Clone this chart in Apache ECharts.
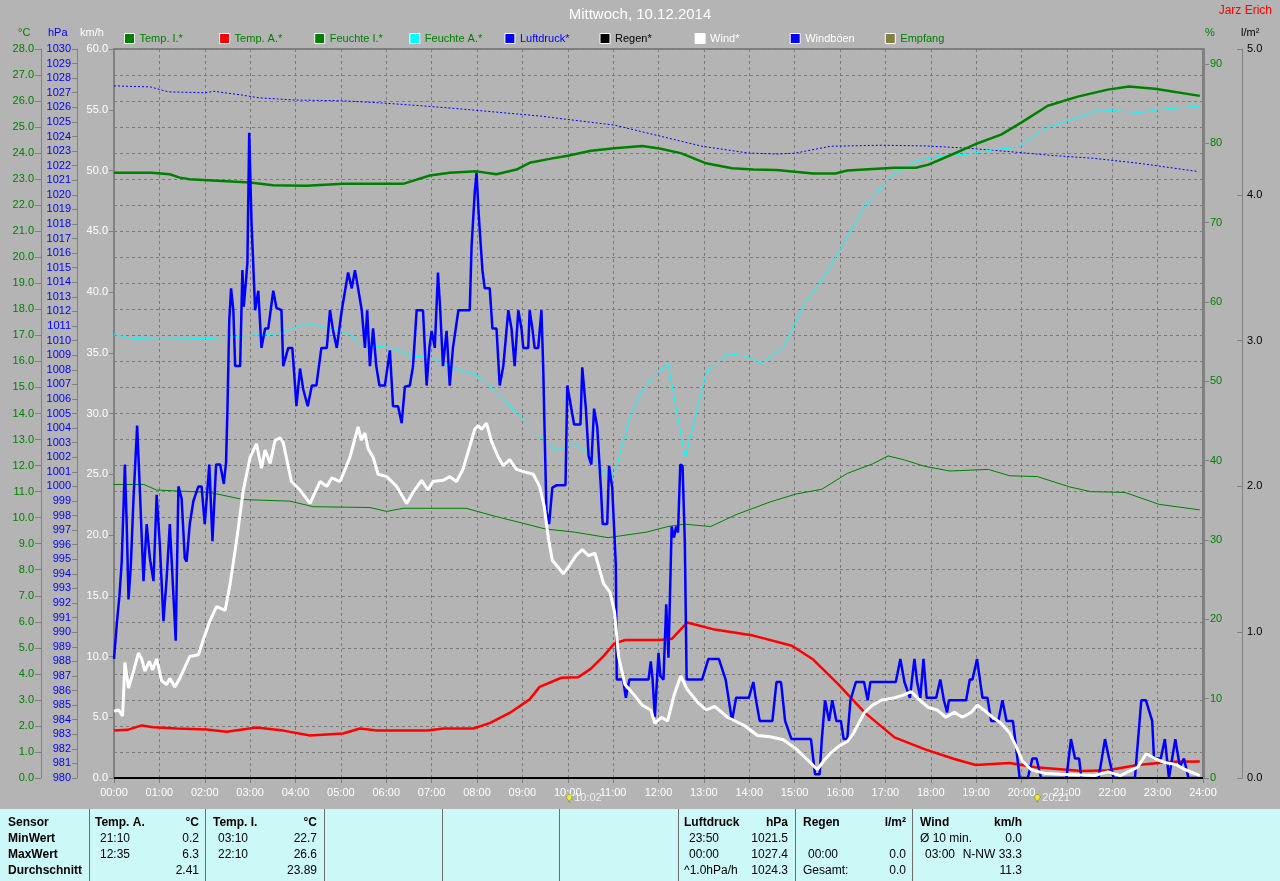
<!DOCTYPE html>
<html>
<head>
<meta charset="utf-8">
<script src="https://cdn.jsdelivr.net/npm/echarts@6/dist/echarts.min.js"></script>
<style>
html,body{margin:0;padding:0;background:#b4b4b4;}
#chart{width:1280px;height:881px;}
</style>
</head>
<body>
<div id="chart"></div>
<script>
// ---------- DATA ----------
const titleText = 'Mittwoch, 10.12.2014';
const authorText = 'Jarz Erich';
const legendNames = ['Temp. I.*','Temp. A.*','Feuchte I.*','Feuchte A.*','Luftdruck*','Regen*','Wind*','Windböen','Empfang'];
const legendTextColors = ['#008000','#008000','#008000','#008000','#0000ff','#000000','#ffffff','#ffffff','#008000'];

const tempInnen = [[0,23.25],[0.83,23.25],[1.23,23.19],[1.45,23.06],[1.67,23.0],[2.48,22.92],[3.0,22.87],[3.5,22.77],[4.24,22.75],[5.05,22.82],[6.37,22.82],[6.96,23.14],[7.4,23.25],[7.99,23.3],[8.43,23.19],[8.87,23.37],[9.16,23.63],[9.6,23.78],[10.0,23.9],[10.51,24.09],[11.03,24.19],[11.64,24.27],[12.02,24.18],[12.49,24.0],[13.05,23.61],[13.62,23.42],[14.09,23.37],[14.6,23.35],[15.41,23.22],[15.9,23.22],[16.16,23.33],[17.2,23.44],[17.67,23.44],[17.95,23.56],[18.42,23.91],[18.99,24.35],[19.55,24.71],[20.02,25.2],[20.58,25.82],[21.24,26.17],[21.9,26.44],[22.37,26.56],[22.94,26.47],[23.93,26.2]];

const tempAussen = [[0,1.82],[0.3,1.85],[0.61,2.02],[0.87,1.95],[1.38,1.9],[2.04,1.86],[2.48,1.78],[3.14,1.94],[3.73,1.82],[4.32,1.63],[5.05,1.71],[5.42,1.9],[5.79,1.82],[6.9,1.82],[7.27,1.9],[7.92,1.9],[8.28,2.11],[8.72,2.5],[9.16,3.02],[9.38,3.5],[9.86,3.85],[10.23,3.87],[10.51,4.2],[10.8,4.7],[11.03,5.17],[11.27,5.3],[12.02,5.3],[12.3,5.35],[12.63,5.97],[13.24,5.7],[14.09,5.47],[14.94,5.08],[15.41,4.55],[15.97,3.59],[16.54,2.52],[17.2,1.56],[17.86,1.11],[18.52,0.73],[18.99,0.5],[19.74,0.58],[20.3,0.41],[21.34,0.27],[21.9,0.3],[22.56,0.5],[23.31,0.62],[23.93,0.63]];

const feuchteInnen = [[0,37.0],[0.66,37.0],[0.94,36.3],[2.11,36.0],[2.85,35.1],[3.88,34.9],[4.39,34.2],[5.64,34.1],[6.01,33.6],[6.37,34.0],[7.76,34.0],[8.36,33.05],[9.09,32.0],[9.5,31.4],[10.14,31.0],[10.89,30.3],[11.74,31.0],[12.21,31.7],[12.57,32.0],[13.15,31.7],[13.71,33.2],[14.46,34.8],[15.03,35.8],[15.6,36.4],[16.16,38.4],[16.72,39.6],[17.06,40.6],[17.42,40.1],[17.86,39.3],[18.42,38.7],[19.27,38.9],[19.74,38.1],[20.35,38.0],[21.06,36.7],[21.52,36.1],[22.28,36.0],[23.03,34.5],[23.93,33.8]];

const feuchteAussen = [[0,55.9],[0.44,55.4],[1.0,55.5],[2.1,55.4],[3.0,55.8],[3.59,56.0],[4.24,57.3],[4.76,56.7],[5.2,55.9],[5.49,54.5],[6.08,54.3],[6.59,53.2],[7.0,53.0],[7.53,51.6],[7.99,50.8],[8.43,48.7],[8.87,46.05],[9.31,43.4],[9.76,41.3],[10.14,42.2],[10.52,40.7],[10.94,37.5],[11.08,39.3],[11.36,45.3],[11.64,48.8],[11.92,50.8],[12.21,52.2],[12.59,40.4],[13.05,51.1],[13.52,53.5],[13.9,53.2],[14.28,52.3],[14.75,54.3],[15.22,59.8],[15.6,62.7],[16.07,67.3],[16.54,72.0],[17.1,75.7],[17.67,77.8],[18.33,78.5],[18.76,78.6],[19.37,79.2],[19.93,79.5],[20.49,81.8],[21.15,83.1],[21.71,84.25],[22.6,83.9],[23.1,84.3],[23.93,84.7]];

const luftdruck = [[0,1027.47],[0.8,1027.4],[1.2,1027.06],[2.0,1027.0],[2.2,1027.1],[2.8,1026.85],[3.2,1026.65],[4.0,1026.5],[5.0,1026.45],[5.9,1026.3],[6.8,1026.1],[7.6,1025.9],[8.5,1025.65],[9.4,1025.4],[9.76,1025.26],[11.03,1024.78],[12.2,1023.9],[12.96,1023.33],[13.99,1022.86],[14.6,1022.8],[15.0,1022.85],[15.79,1023.33],[16.92,1023.4],[17.9,1023.35],[18.8,1023.2],[19.74,1022.96],[20.67,1022.7],[21.6,1022.5],[22.57,1022.17],[23.88,1021.6]];

const regen = [[0,0],[6,0],[12,0],[18,0],[24,0]];

const wind = [[0,5.5],[0.1,5.6],[0.19,5.1],[0.24,9.5],[0.32,7.4],[0.43,8.8],[0.54,10.3],[0.61,9.8],[0.68,8.8],[0.78,9.6],[0.85,8.9],[0.94,9.8],[1.05,8.0],[1.16,7.7],[1.23,8.2],[1.34,7.5],[1.45,8.2],[1.56,9.1],[1.67,10.0],[1.86,10.15],[1.97,11.4],[2.11,12.9],[2.26,14.1],[2.45,13.8],[2.56,16.0],[2.7,19.5],[2.85,23.7],[3.0,26.4],[3.14,27.5],[3.25,25.5],[3.33,27.0],[3.44,25.9],[3.55,27.8],[3.66,28.0],[3.73,27.6],[3.91,24.4],[4.1,23.7],[4.32,22.6],[4.54,24.4],[4.69,24.0],[4.8,24.7],[4.98,24.4],[5.05,25.0],[5.2,26.4],[5.38,28.9],[5.45,27.8],[5.53,28.4],[5.6,27.1],[5.71,26.4],[5.82,25.0],[6.01,24.8],[6.23,24.0],[6.45,22.6],[6.59,23.5],[6.78,24.5],[6.92,23.7],[7.03,24.4],[7.25,24.5],[7.4,24.8],[7.55,24.4],[7.69,25.4],[7.84,27.3],[7.95,28.7],[8.03,29.0],[8.1,28.7],[8.21,29.2],[8.32,27.7],[8.47,26.4],[8.58,25.7],[8.72,26.2],[8.87,25.4],[9.05,25.2],[9.24,25.0],[9.38,24.0],[9.48,22.4],[9.57,19.8],[9.66,17.9],[9.8,17.3],[9.9,16.8],[10.04,17.5],[10.18,18.3],[10.32,18.8],[10.46,18.3],[10.6,18.5],[10.79,16.0],[10.93,15.3],[11.03,13.7],[11.12,10.0],[11.26,7.7],[11.45,6.9],[11.64,6.0],[11.83,5.6],[11.92,4.5],[12.06,5.0],[12.2,4.7],[12.35,6.9],[12.49,8.4],[12.63,7.3],[12.87,6.2],[13.05,5.6],[13.24,5.9],[13.52,5.0],[13.9,4.3],[14.18,3.5],[14.46,3.4],[14.75,3.15],[15.03,2.4],[15.31,1.4],[15.5,0.7],[15.64,1.4],[15.78,2.0],[15.97,2.6],[16.16,3.0],[16.3,3.7],[16.54,5.4],[16.72,6.0],[16.91,6.4],[17.2,6.6],[17.38,6.8],[17.57,7.1],[17.76,6.4],[17.95,5.8],[18.14,5.6],[18.33,5.0],[18.52,5.4],[18.7,5.0],[18.89,5.4],[19.03,6.0],[19.17,5.6],[19.36,5.0],[19.55,4.5],[19.74,3.7],[19.88,2.6],[20.02,1.4],[20.21,0.7],[20.49,0.4],[20.86,0.3],[21.61,0.2],[21.9,0.5],[22.18,0.2],[22.56,0.9],[22.75,2.0],[22.94,1.6],[23.13,1.3],[23.41,1.1],[23.6,0.7],[23.93,0.2]];

const windBoeen = [[0.0,9.8],[0.06,12.6],[0.12,15.0],[0.17,17.8],[0.24,25.8],[0.28,20.9],[0.32,14.7],[0.37,17.4],[0.43,23.0],[0.51,29.0],[0.57,23.7],[0.65,16.2],[0.72,20.9],[0.79,18.1],[0.87,16.2],[0.94,23.3],[1.01,19.2],[1.09,12.9],[1.16,16.4],[1.23,20.9],[1.31,15.0],[1.36,11.3],[1.42,24.0],[1.49,23.0],[1.56,18.1],[1.6,17.8],[1.67,20.9],[1.75,22.8],[1.86,24.0],[1.93,24.0],[2.0,20.9],[2.1,25.8],[2.17,19.5],[2.25,25.8],[2.34,25.8],[2.42,24.2],[2.47,26.0],[2.5,30.3],[2.54,37.6],[2.58,40.3],[2.63,38.5],[2.67,33.9],[2.78,33.9],[2.83,41.8],[2.86,38.8],[2.91,41.0],[2.94,42.4],[2.98,53.1],[3.03,45.8],[3.07,42.2],[3.11,38.5],[3.18,40.1],[3.25,35.4],[3.33,37.0],[3.4,37.0],[3.51,40.1],[3.58,38.7],[3.69,38.5],[3.73,33.9],[3.84,35.4],[3.93,35.4],[3.99,32.3],[4.02,30.6],[4.1,33.7],[4.17,32.0],[4.27,30.6],[4.36,32.3],[4.46,32.3],[4.57,35.4],[4.69,35.4],[4.76,38.5],[4.83,36.8],[4.91,35.4],[5.02,38.5],[5.16,41.6],[5.24,40.3],[5.31,41.8],[5.38,40.3],[5.46,38.5],[5.53,35.4],[5.58,38.5],[5.64,33.9],[5.71,37.0],[5.78,33.9],[5.85,32.3],[5.97,32.3],[6.08,35.2],[6.15,30.6],[6.26,30.6],[6.34,29.2],[6.41,32.2],[6.52,32.3],[6.59,33.9],[6.67,38.5],[6.81,38.5],[6.89,32.3],[6.95,35.4],[7.0,36.8],[7.07,35.4],[7.14,41.6],[7.19,38.5],[7.25,33.9],[7.33,36.8],[7.4,32.3],[7.47,35.4],[7.59,38.5],[7.84,38.5],[7.88,43.7],[7.95,48.2],[7.99,49.8],[8.03,46.9],[8.06,45.1],[8.12,41.8],[8.17,40.3],[8.28,40.3],[8.34,37.0],[8.43,37.0],[8.5,32.3],[8.58,33.9],[8.69,38.5],[8.76,37.0],[8.83,33.9],[8.91,38.5],[8.98,37.0],[9.02,35.4],[9.13,35.4],[9.16,38.5],[9.22,37.0],[9.27,35.4],[9.35,35.4],[9.42,38.5],[9.46,33.7],[9.49,28.5],[9.53,22.0],[9.59,20.9],[9.66,23.9],[9.76,24.1],[9.95,24.1],[9.99,32.3],[10.06,30.8],[10.14,29.1],[10.28,29.1],[10.32,33.8],[10.4,30.4],[10.46,26.5],[10.52,25.8],[10.58,30.4],[10.65,28.9],[10.73,23.9],[10.77,20.9],[10.87,20.9],[10.91,25.7],[10.98,23.9],[11.06,17.5],[11.08,8.1],[11.22,8.1],[11.28,6.6],[11.36,8.1],[11.78,8.1],[11.83,9.6],[11.87,8.1],[11.92,5.0],[12.0,10.3],[12.04,8.4],[12.11,8.1],[12.17,14.3],[12.22,9.9],[12.29,20.7],[12.34,19.8],[12.39,20.7],[12.43,20.2],[12.48,25.8],[12.53,25.7],[12.58,19.4],[12.62,8.1],[12.96,8.1],[13.1,9.8],[13.33,9.8],[13.48,8.1],[13.62,4.7],[13.71,6.6],[13.99,6.6],[14.09,7.9],[14.14,6.6],[14.23,4.7],[14.51,4.7],[14.6,7.9],[14.7,7.9],[14.79,4.7],[14.93,3.2],[15.36,3.2],[15.45,0.3],[15.55,0.3],[15.6,3.2],[15.67,6.4],[15.76,4.7],[15.83,6.4],[15.92,4.7],[16.02,4.7],[16.08,3.2],[16.16,3.2],[16.23,6.4],[16.35,7.9],[16.53,7.9],[16.61,6.4],[16.67,7.9],[17.23,7.9],[17.33,9.8],[17.42,7.9],[17.54,6.6],[17.64,9.8],[17.7,7.9],[17.77,6.6],[17.84,9.8],[17.91,6.6],[18.12,6.6],[18.21,8.1],[18.29,6.4],[18.36,5.4],[18.4,6.4],[18.78,6.4],[18.86,8.1],[18.92,8.1],[19.02,9.8],[19.06,9.8],[19.14,6.6],[19.25,6.6],[19.33,4.7],[19.49,4.7],[19.58,6.4],[19.67,4.7],[19.81,4.7],[19.86,3.2],[19.96,0.0],[20.14,0.0],[20.24,1.6],[20.33,1.6],[20.43,0.0],[20.99,0.0],[21.09,3.2],[21.18,1.6],[21.27,1.6],[21.32,0.0],[21.7,0.0],[21.84,3.2],[21.93,1.6],[22.03,0.0],[22.5,0.0],[22.64,6.4],[22.74,6.4],[22.88,4.7],[22.92,1.6],[23.07,1.6],[23.16,3.2],[23.25,0.0],[23.39,3.2],[23.49,0.9],[23.58,1.6],[23.68,0.0],[23.91,0.0]];

const empfang = [];

// event markers below the time axis (time in hours, label)
const eventTimes = [10.0333, 20.35];
const eventLabels = ['10:02', '20:21'];

// bottom summary table
const tableRowLabels = ['Sensor','MinWert','MaxWert','Durchschnitt'];
const tableBlocks = [
  {head:['Temp. A.','°C'],  rows:[['21:10','0.2'],['12:35','6.3'],['','2.41']]},
  {head:['Temp. I.','°C'],  rows:[['03:10','22.7'],['22:10','26.6'],['','23.89']]},
  {head:['Luftdruck','hPa'],rows:[['23:50','1021.5'],['00:00','1027.4'],['^1.0hPa/h','1024.3']]},
  {head:['Regen','l/m²'],   rows:[['',''],['00:00','0.0'],['Gesamt:','0.0']]},
  {head:['Wind','km/h'],    rows:[['Ø 10 min.','0.0'],['03:00','N-NW 33.3'],['','11.3']]}
];
// layout of the table (pixel columns)
const tableBlockX = [[95,199],[213,317],[684,788],[803,906],[920,1022]];
const tableSeparators = [89, 205, 324, 442, 559, 678, 795, 912];

// ---------- CHART ----------
const FONT = '"Liberation Sans", Arial, sans-serif';
const chart = echarts.init(document.getElementById('chart'), null, {renderer:'canvas'});
const gridDash = {color:'#7a7a7a', width:1, type:[3,3]};

function lineSeries(name, data, yIdx, color, width, extra) {
  return Object.assign({
    name, type:'line', data, yAxisIndex:yIdx, xAxisIndex:0,
    showSymbol:false, symbol:'none', color,
    lineStyle:{color, width}, animation:false, silent:true
  }, extra || {});
}

const graphics = [];
graphics.push({type:'text', left:'center', top:7, style:{text:titleText, fill:'#ffffff', font:'15px ' + FONT}});
graphics.push({type:'text', right:8, top:5, style:{text:authorText, fill:'#ff0000', font:'12px ' + FONT}});
const headers = [['°C',18,'#008000'],['hPa',48,'#0000ff'],['km/h',80,'#ffffff'],['%',1205,'#008000'],['l/m²',1241,'#000000']];
headers.forEach(h => graphics.push({type:'text', x:h[1], y:27, style:{text:h[0], fill:h[2], font:'11px ' + FONT}}));
graphics.push({type:'rect', shape:{x:0, y:809, width:1280, height:72}, style:{fill:'#ccf8f8'}, z:0});
tableSeparators.forEach(x => graphics.push({type:'line', shape:{x1:x+0.5, y1:809, x2:x+0.5, y2:881}, style:{stroke:'#6e6e6e', lineWidth:1}}));
const rowY = [823, 839, 855, 871];
const isTime = s => /^\d\d:\d\d$/.test(s);
tableRowLabels.forEach((t,i) => graphics.push({type:'text', x:8, y:rowY[i], style:{text:t, fill:'#000', font:'bold 12px ' + FONT, textVerticalAlign:'middle'}}));
tableBlocks.forEach((b,k) => {
  const [xl, xr] = tableBlockX[k];
  graphics.push({type:'text', x:xl, y:rowY[0], style:{text:b.head[0], fill:'#000', font:'bold 12px ' + FONT, textVerticalAlign:'middle'}});
  graphics.push({type:'text', x:xr, y:rowY[0], style:{text:b.head[1], fill:'#000', font:'bold 12px ' + FONT, textAlign:'right', textVerticalAlign:'middle'}});
  b.rows.forEach((r,i) => {
    graphics.push({type:'text', x:xl + (isTime(r[0]) ? 5 : 0), y:rowY[i+1], style:{text:r[0], fill:'#000', font:'12px ' + FONT, textVerticalAlign:'middle'}});
    graphics.push({type:'text', x:xr, y:rowY[i+1], style:{text:r[1], fill:'#000', font:'12px ' + FONT, textAlign:'right', textVerticalAlign:'middle'}});
  });
});

const legends = legendNames.map((n,i) => ({
  data:[{name:n, itemStyle:{borderColor:'#ffffff', borderWidth:1}}],
  left:124 + i*95.1, top:33, padding:0, itemGap:0,
  itemWidth:10, itemHeight:10, icon:'rect', selectedMode:false,
  textStyle:{color:legendTextColors[i], fontSize:11, fontFamily:FONT}
}));

const option = {
  backgroundColor:'#b4b4b4',
  animation:false,
  textStyle:{fontFamily:FONT},
  grid:{left:114, right:77, top:49, bottom:103, show:true, borderColor:'#808080', borderWidth:2, backgroundColor:'transparent', containLabel:false, outerBoundsMode:'none'},
  legend: legends,
  graphic: graphics,
  xAxis:{
    type:'value', min:0, max:24, interval:1,
    axisLine:{show:true, onZero:false, lineStyle:{color:'#808080', width:1}},
    axisTick:{show:true, length:5, lineStyle:{color:'#808080'}},
    axisLabel:{color:'#ffffff', fontSize:11, margin:9, hideOverlap:false,
      formatter: v => String(v).padStart(2,'0') + ':00'},
    splitLine:{show:true, lineStyle:gridDash}
  },
  yAxis:[
    {type:'value', position:'left', offset:0, min:0, max:60, interval:5,
     axisLine:{show:true, onZero:false, lineStyle:{color:'#808080', width:2}},
     axisTick:{show:true, length:5, lineStyle:{color:'#808080'}},
     axisLabel:{color:'#ffffff', fontSize:11, margin:6, hideOverlap:false, formatter:v => v.toFixed(1)},
     splitLine:{show:false}},
    {type:'value', position:'left', offset:73, min:0, max:28, interval:1,
     axisLine:{show:true, onZero:false, lineStyle:{color:'#808080', width:1}},
     axisTick:{show:true, length:6, lineStyle:{color:'#808080'}},
     axisLabel:{color:'#008000', fontSize:11, margin:7, hideOverlap:false, formatter:v => v.toFixed(1)},
     splitLine:{show:true, lineStyle:gridDash}},
    {type:'value', position:'left', offset:37, min:980, max:1030, interval:1,
     axisLine:{show:true, onZero:false, lineStyle:{color:'#808080', width:1}},
     axisTick:{show:true, length:5, lineStyle:{color:'#808080'}},
     axisLabel:{color:'#0000ff', fontSize:11, margin:6, hideOverlap:false, formatter:v => String(Math.round(v))},
     splitLine:{show:false}},
    {type:'value', position:'right', offset:1, min:0, max:91.9, interval:10,
     axisLine:{show:true, onZero:false, lineStyle:{color:'#808080', width:2}},
     axisTick:{show:true, length:5, lineStyle:{color:'#808080'}},
     axisLabel:{color:'#008000', fontSize:11, margin:6, hideOverlap:false, showMaxLabel:false, formatter:v => String(Math.round(v))},
     splitLine:{show:false}},
    {type:'value', position:'right', offset:39, min:0, max:5, interval:1,
     axisLine:{show:true, onZero:false, lineStyle:{color:'#808080', width:1}},
     axisTick:{show:true, inside:true, length:5, lineStyle:{color:'#808080'}},
     axisLabel:{color:'#000000', fontSize:11, margin:5, hideOverlap:false, formatter:v => v.toFixed(1)},
     splitLine:{show:false}}
  ],
  series:[
    lineSeries('Luftdruck*', luftdruck, 2, '#0000ff', 1, {lineStyle:{color:'#0000ff', width:1, type:[2,2]}, z:2}),
    lineSeries('Feuchte I.*', feuchteInnen, 3, '#008000', 1, {z:3}),
    lineSeries('Feuchte A.*', feuchteAussen, 3, '#00ffff', 1, {z:3}),
    lineSeries('Temp. I.*', tempInnen, 1, '#008000', 2.5, {z:4}),
    lineSeries('Temp. A.*', tempAussen, 1, '#ff0000', 2.5, {z:4}),
    lineSeries('Windböen', windBoeen, 0, '#0000ff', 2.5, {z:5}),
    lineSeries('Wind*', wind, 0, '#ffffff', 3, {z:6}),
    lineSeries('Regen*', regen, 4, '#000000', 2, {z:7, clip:false}),
    lineSeries('Empfang', empfang, 4, '#808040', 1, {z:7}),
    {type:'scatter', xAxisIndex:0, yAxisIndex:0, clip:false, silent:true, z:8,
     data: eventTimes.map((t,i) => ({value:[t, -2], label:{formatter:eventLabels[i]}})),
     symbol:'pin', symbolSize:9, itemStyle:{color:'#ffff00', borderColor:'#606000', borderWidth:0.5},
     label:{show:true, position:'right', distance:2, color:'#ffffff', fontSize:11, fontFamily:FONT}}
  ]
};
chart.setOption(option);
</script>
</body>
</html>
